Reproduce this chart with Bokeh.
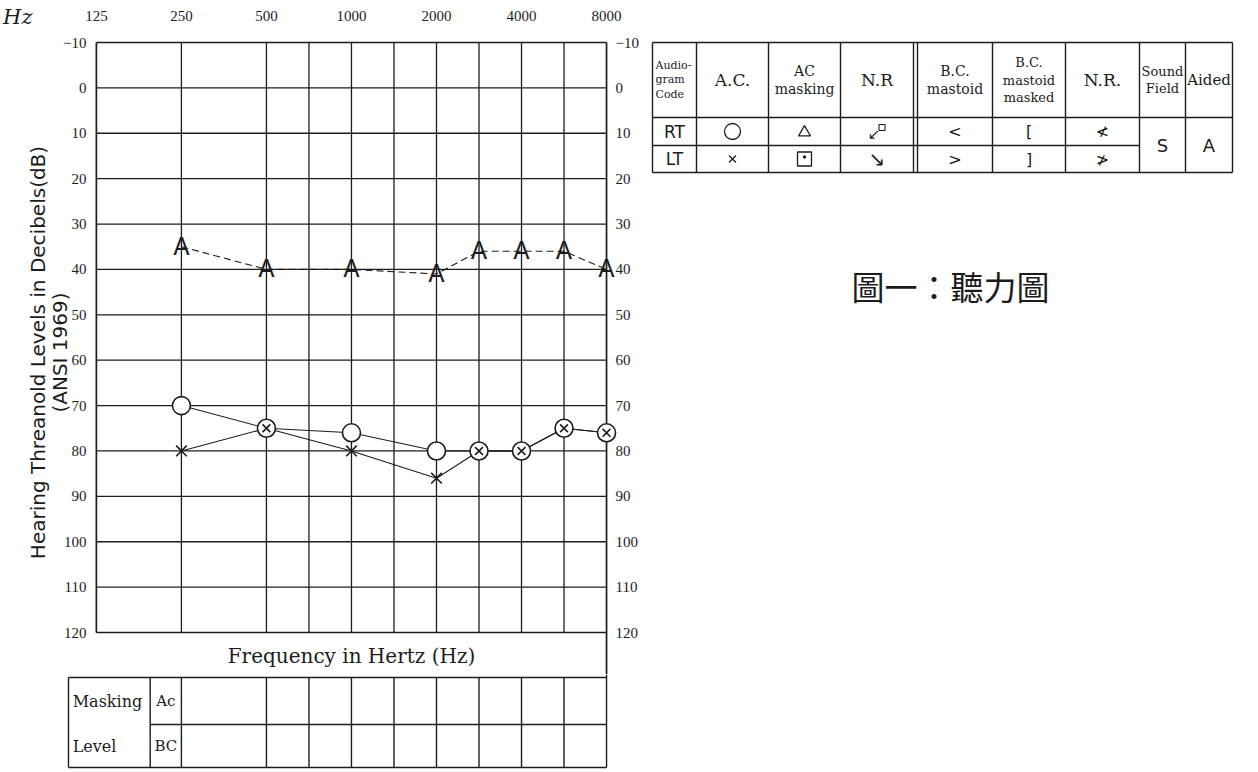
import numpy as np
from bokeh.plotting import figure
from bokeh.models import (Range1d, LinearAxis, FixedTicker, ColumnDataSource,
                          CDSView, BooleanFilter)
from bokeh.layouts import row, column
from bokeh.embed import file_html
from bokeh.resources import INLINE
from bokeh.core.properties import value

# ---------------- data ----------------
octave_freqs = [125, 250, 500, 1000, 2000, 4000, 8000]
freq_labels = ["125", "250", "500", "1000", "2000", "4000", "8000"]
grid_freqs = [250, 500, 750, 1000, 1500, 2000, 3000, 4000, 6000]
db_ticks = list(range(-10, 121, 10))

test_freqs = [250, 500, 1000, 2000, 3000, 4000, 6000, 8000]
right_ac = [70, 75, 76, 80, 80, 80, 75, 76]   # O  (RT A.C.)
left_ac = [80, 75, 80, 86, 80, 80, 75, 76]    # X  (LT A.C.)
aided = [35, 40, 40, 41, 36, 36, 36, 40]      # A  (Aided)

legend_headers = ["Audio-\ngram\nCode", "A.C.", "AC\nmasking", "N.R", "B.C.\nmastoid",
                  "B.C.\nmastoid\nmasked", "N.R.", "Sound\nField", "Aided"]
legend_rows = ["RT", "LT"]
title_text = "圖一：聽力圖"
y_title = "Hearing Threanold Levels in Decibels(dB)\n(ANSI 1969)"
x_title = "Frequency in Hertz (Hz)"
unit_label = "Hz"

INK = "#1c1c1c"
SERIF = "DejaVu Serif"


def aud_pos(f):
    """Audiogram frequency scale: octaves equally spaced, half-octaves in the middle."""
    o = np.log2(np.asarray(f, dtype=float) / 125.0)
    return np.where(np.isclose(o, np.round(o)), np.round(o), np.floor(o) + 0.5)


# ---------------- geometry (pixels) ----------------
PX_OCT = 512 / 6.0      # pixels per octave
PX_DB = 590 / 130.0     # pixels per dB
COL_W = 648
FR_L, FR_R = 62, 618    # common frame edges of the left column
x_lo = -(94 - FR_L) / PX_OCT
x_hi = 6 + (FR_R - 606) / PX_OCT
TOP_H = 30              # page 0 .. 30
A_H = 644               # page 30 .. 674
C_H = 96                # page 674 .. 770
y_top = -10 - (42 - TOP_H) / PX_DB
y_bot = -10 + (TOP_H + A_H - 42) / PX_DB


def strip_axes(p):
    for ax in p.axis:
        ax.axis_line_color = None
        ax.major_tick_line_color = None
        ax.minor_tick_line_color = None
        ax.major_label_text_color = INK


common = dict(output_backend="svg", toolbar_location=None,
              min_border_left=FR_L, min_border_right=COL_W - FR_R)

# ---------------- top strip: unit + frequency labels ----------------
pT = figure(width=COL_W, height=TOP_H, x_range=Range1d(x_lo, x_hi),
            y_range=Range1d(TOP_H, 18), x_axis_location="above",
            min_border_top=18, min_border_bottom=0, **common)
pT.outline_line_color = None
pT.grid.visible = False
oct_ticks = [int(v) for v in aud_pos(octave_freqs)]
pT.xaxis.ticker = FixedTicker(ticks=oct_ticks)
pT.xaxis.major_label_overrides = {t: lab for t, lab in zip(oct_ticks, freq_labels)}
pT.xaxis.major_label_standoff = -8
pT.xaxis.major_label_text_font = "Liberation Serif"
pT.xaxis.major_label_text_font_size = "15px"
pT.yaxis.ticker = FixedTicker(ticks=[20])
pT.yaxis.major_label_overrides = {20: unit_label}
pT.yaxis.major_label_standoff = FR_L - 36
pT.yaxis.major_label_text_font = SERIF
pT.yaxis.major_label_text_font_size = "21px"
pT.yaxis.major_label_text_font_style = "italic"
strip_axes(pT)

# ---------------- main audiogram ----------------
pA = figure(width=COL_W, height=A_H, x_range=pT.x_range, y_range=Range1d(y_bot, y_top),
            x_axis_type=None, min_border_top=0, min_border_bottom=0, **common)
pA.outline_line_color = None
pA.grid.visible = False
pA.yaxis.ticker = FixedTicker(ticks=db_ticks)
pA.add_layout(LinearAxis(ticker=FixedTicker(ticks=db_ticks)), "right")
strip_axes(pA)
for ax in pA.yaxis:
    ax.major_label_text_font = "Liberation Serif"
    ax.major_label_text_font_size = "15px"
pA.yaxis[0].major_label_standoff = FR_L - 90
pA.yaxis[1].major_label_standoff = 609 - FR_R
pA.yaxis[0].axis_label = y_title
pA.yaxis[0].axis_label_text_font = "DejaVu Sans"
pA.yaxis[0].axis_label_text_font_size = "20px"
pA.yaxis[0].axis_label_text_line_height = 0.9
pA.yaxis[0].axis_label_text_font_style = "normal"
pA.yaxis[0].axis_label_text_color = INK
pA.yaxis[0].axis_label_standoff = -12

# chart grid drawn from the tick arrays
gx = [float(v) for v in aud_pos(grid_freqs)]
inner_db = db_ticks[1:-1]
pA.segment(x0=[0.0] * len(inner_db), y0=inner_db, x1=[6.0] * len(inner_db), y1=inner_db,
           line_color=INK, line_width=1.3)
pA.segment(x0=gx, y0=[-10] * len(gx), x1=gx, y1=[120] * len(gx),
           line_color=INK, line_width=1.3)
pA.segment(x0=[0.0, 0.0, 0.0, 6.0], y0=[-10, 120, -10, -10],
           x1=[6.0, 6.0, 0.0, 6.0], y1=[-10, 120, 120, y_bot],
           line_color=INK, line_width=1.7)

src = ColumnDataSource(dict(x=aud_pos(test_freqs), right=right_ac, left=left_ac,
                            aided=aided, a=["A"] * len(test_freqs)))
both = (np.array(left_ac) == np.array(right_ac)).tolist()
only_left = [not b for b in both]

pA.line("x", "right", source=src, line_color=INK, line_width=1.1)
pA.line("x", "left", source=src, line_color=INK, line_width=1.1)
pA.line("x", "aided", source=src, line_color=INK, line_width=1.1, line_dash="7 4")
pA.scatter("x", "right", source=src, marker="circle", size=18, fill_color="white",
           line_color=INK, line_width=1.6)
pA.scatter("x", "left", source=src, view=CDSView(filter=BooleanFilter(booleans=only_left)),
           marker="x", size=15, line_color=INK, line_width=1.6)
pA.scatter("x", "left", source=src, view=CDSView(filter=BooleanFilter(booleans=both)),
           marker="x", size=11, line_color=INK, line_width=1.6)
pA.text("x", "aided", text="a", source=src, text_font=value("DejaVu Sans"),
        text_font_size="24px", text_align="center", text_baseline="middle",
        text_color=INK)
pA.text(x=[3.0], y=[-10 + (655 - 42) / PX_DB], text=[x_title], text_font=value(SERIF),
        text_font_size="20px", text_align="center", text_baseline="middle", text_color=INK)

# ---------------- masking-level table (shares the frequency scale) ----------------
pC = figure(width=COL_W, height=C_H, x_range=pT.x_range, y_range=Range1d(C_H, 0),
            x_axis_type=None, y_axis_type=None, min_border_top=0, min_border_bottom=0,
            **common)
pC.outline_line_color = None
pC.grid.visible = False

t_left = (66 - 94) / PX_OCT
t_div = (148 - 94) / PX_OCT
t_top, t_mid, t_bot = 3, 50, 93
vx = [6.0, t_left, t_div] + gx
vy0 = [0] + [t_top] * (len(vx) - 1)
vy1 = [t_bot] * len(vx)
pC.segment(x0=vx, y0=vy0, x1=vx, y1=vy1, line_color=INK, line_width=1.4)
pC.segment(x0=[t_left, t_left, t_div], y0=[t_top, t_bot, t_mid],
           x1=[6.0, 6.0, 6.0], y1=[t_top, t_bot, t_mid], line_color=INK, line_width=1.4)
pC.text(x=[t_left + 0.05] * 2, y=[(t_top + t_mid) / 2, (t_mid + t_bot) / 2],
        text=["Masking", "Level"], text_font=value(SERIF),
        text_font_size="16px", text_align="left", text_baseline="middle", text_color=INK)
pC.text(x=[(t_div + 1.0) / 2] * 2, y=[(t_top + t_mid) / 2, (t_mid + t_bot) / 2],
        text=["Ac", "BC"], text_font=value(SERIF),
        text_font_size="15px", text_align="center", text_baseline="middle", text_color=INK)

# ---------------- symbol legend table + caption ----------------
FB_W, FB_H = 1256 - COL_W, 330
pB = figure(width=FB_W, height=FB_H, x_range=Range1d(COL_W, COL_W + FB_W),
            y_range=Range1d(FB_H, 0), x_axis_type=None, y_axis_type=None,
            output_backend="svg", toolbar_location=None,
            min_border_left=0, min_border_right=0, min_border_top=0, min_border_bottom=0)
pB.outline_line_color = None
pB.grid.visible = False

cols = [652, 696, 768, 840, 913, 992, 1065, 1139, 1185, 1232]
DBL = 917
T, H, M, B = 42, 117, 145, 172
seg_x0 = cols + [DBL, cols[0], cols[0], cols[0], cols[0]]
seg_y0 = [T] * len(cols) + [T, T, H, B, M]
seg_x1 = cols + [DBL, cols[-1], cols[-1], cols[-1], cols[7]]
seg_y1 = [B] * len(cols) + [B, T, H, B, M]
pB.segment(x0=seg_x0, y0=seg_y0, x1=seg_x1, y1=seg_y1, line_color=INK, line_width=1.4)

hx = [(cols[0] + cols[1]) / 2 - 19, (cols[1] + cols[2]) / 2, (cols[2] + cols[3]) / 2,
      (cols[3] + cols[4]) / 2, (DBL + cols[5]) / 2, (cols[5] + cols[6]) / 2,
      (cols[6] + cols[7]) / 2, (cols[7] + cols[8]) / 2, (cols[8] + cols[9]) / 2]
hsize = ["11px", "17px", "14px", "17px", "14px", "13px", "17px", "13px", "15px"]
for i, (hxx, ht, hs) in enumerate(zip(hx, legend_headers, hsize)):
    pB.text(x=[hxx], y=[(T + H) / 2], text=[ht], text_font=value(SERIF), text_font_size=hs,
            text_align="left" if i == 0 else "center", text_baseline="middle",
            text_line_height=1.15, text_color=INK)

ry = [(H + M) / 2, (M + B) / 2]
cx = [(cols[i] + cols[i + 1]) / 2 for i in range(len(cols) - 1)]
cx[4] = (DBL + cols[5]) / 2
pB.text(x=[cx[0]] * 2, y=ry, text=legend_rows, text_font=value("DejaVu Sans"),
        text_font_size="17px", text_align="center", text_baseline="middle", text_color=INK)
# A.C.
pB.scatter(x=[cx[1]], y=[ry[0]], marker="circle", size=16, fill_color=None,
           line_color=INK, line_width=1.3)
pB.scatter(x=[cx[1]], y=[ry[1]], marker="x", size=10, line_color=INK, line_width=1.3)
# AC masking
pB.scatter(x=[cx[2]], y=[ry[0] + 1], marker="triangle", size=12, fill_color=None,
           line_color=INK, line_width=1.3)
pB.scatter(x=[cx[2]], y=[ry[1]], marker="square", size=14, fill_color=None,
           line_color=INK, line_width=1.3)
pB.scatter(x=[cx[2]], y=[ry[1] - 2], marker="circle", size=2.5, fill_color=INK, line_color=INK)
# N.R (AC)
pB.text(x=[cx[3] - 3], y=[ry[0] + 2], text=["↙"], text_font=value("DejaVu Sans"),
        text_font_size="15px", text_align="center", text_baseline="middle", text_color=INK)
pB.scatter(x=[cx[3] + 5], y=[ry[0] - 4], marker="square", size=6, fill_color=None,
           line_color=INK, line_width=1.1)
pB.text(x=[cx[3]], y=[ry[1]], text=["↘"], text_font=value("DejaVu Sans"),
        text_font_size="20px", text_align="center", text_baseline="middle", text_color=INK)
# B.C. columns
bc_syms = [["<", ">"], ["[", "]"], ["≮", "≯"]]
for j, syms in enumerate(bc_syms):
    pB.text(x=[cx[4 + j]] * 2, y=ry, text=syms,
            text_font=value("DejaVu Sans"), text_font_size="16px", text_align="center",
            text_baseline="middle", text_color=INK)
pB.text(x=[cx[7], cx[8]], y=[(H + B) / 2] * 2, text=["S", "A"], text_font=value("DejaVu Sans"),
        text_font_size="18px", text_align="center", text_baseline="middle", text_color=INK)

pB.text(x=[950], y=[285], text=[title_text], text_font=value("Noto Sans CJK TC"),
        text_font_size="33px", text_align="center", text_baseline="middle", text_color=INK)

layout = row(column(pT, pA, pC), pB)
open("out.html", "w").write(file_html(layout, INLINE))
